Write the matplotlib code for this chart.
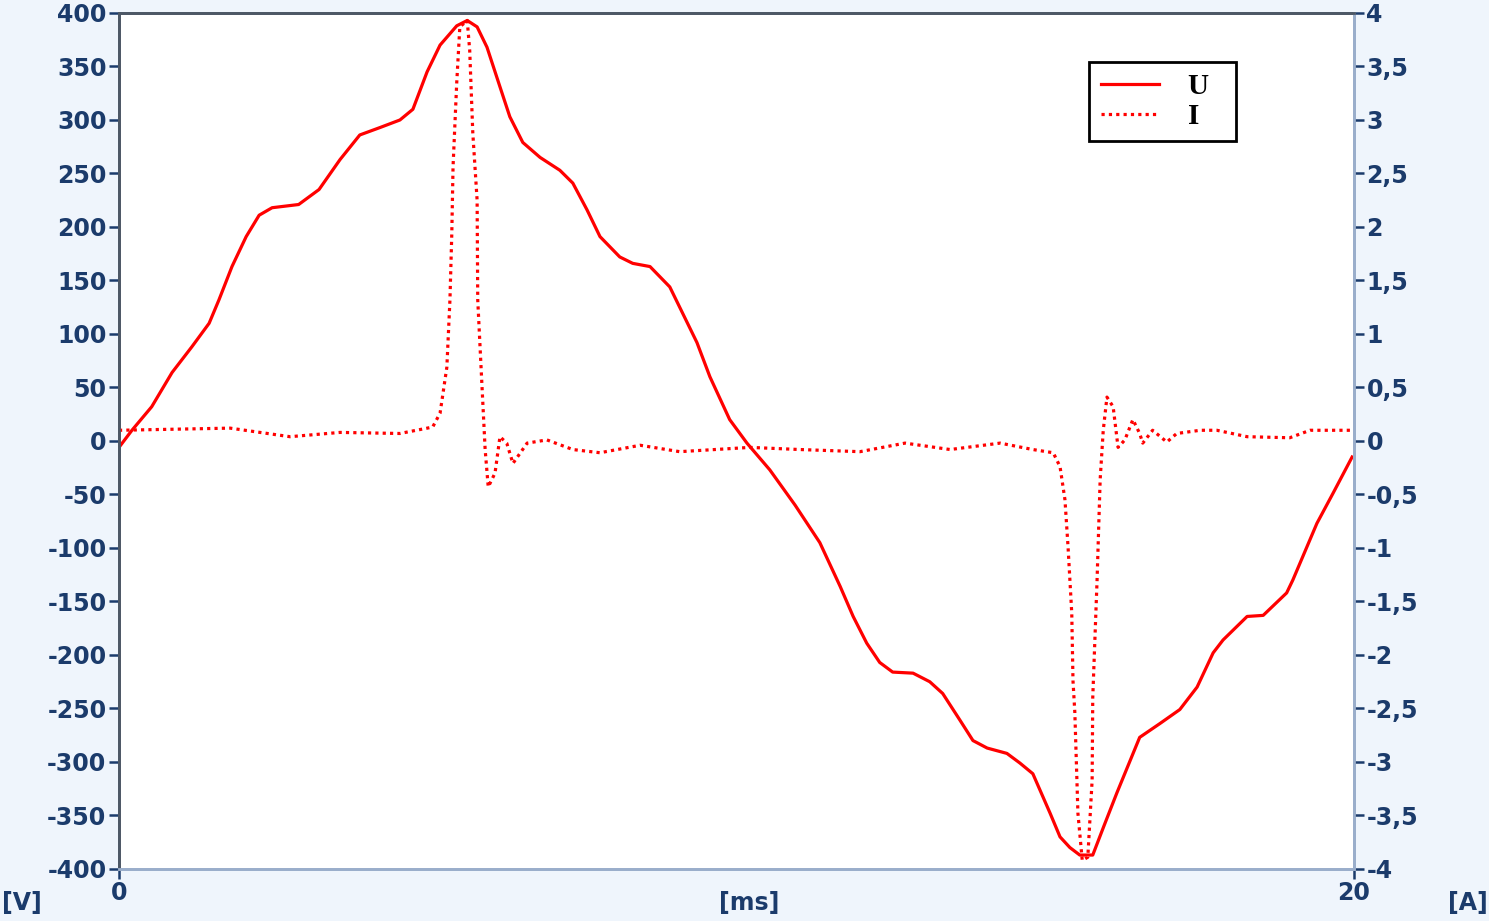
import numpy as np
from matplotlib import pyplot as plt
from matplotlib.lines import Line2D

# Spannung U [V] ueber Zeit [ms]
t_u = [0.00, 0.21, 0.53, 0.86, 1.18, 1.46, 1.62, 1.83, 2.06, 2.27, 2.48, 2.91, 3.24, 3.58,
       3.90, 4.23, 4.55, 4.76, 4.99, 5.20, 5.47, 5.64, 5.80, 5.96, 6.17, 6.33, 6.54, 6.82,
       7.14, 7.35, 7.58, 7.79, 8.11, 8.32, 8.60, 8.92, 9.36, 9.57, 9.89, 10.17, 10.54, 10.95,
       11.35, 11.68, 11.89, 12.11, 12.32, 12.53, 12.86, 13.13, 13.34, 13.62, 13.83, 14.06,
       14.38, 14.59, 14.80, 15.08, 15.24, 15.40, 15.56, 15.77, 15.95, 16.16, 16.53, 16.86,
       17.18, 17.46, 17.72, 17.88, 18.27, 18.53, 18.91, 19.01, 19.40, 19.66, 19.97]
u = [-6, 10, 32, 64, 88, 110, 132, 163, 191, 211, 218, 221, 235, 263,
     286, 293, 300, 310, 345, 370, 388, 393, 387, 368, 331, 303, 279, 265,
     253, 241, 216, 191, 172, 166, 163, 144, 92, 60, 20, -2, -27, -60,
     -95, -136, -164, -189, -207, -216, -217, -225, -236, -261, -280, -287,
     -292, -301, -311, -348, -370, -380, -387, -387, -360, -329, -277, -264,
     -251, -230, -198, -186, -164, -163, -142, -130, -77, -49, -15]

# Strom I [A]
t_i = [0.00, 1.80, 2.77, 3.58, 4.55, 5.08, 5.20, 5.31, 5.36, 5.39, 5.41, 5.47, 5.52, 5.64,
       5.68, 5.73, 5.80, 5.81, 5.88, 5.93, 5.98, 6.09, 6.17, 6.28, 6.38, 6.61, 6.93, 7.35,
       7.79, 8.44, 9.08, 10.22, 11.03, 12.00, 12.73, 13.46, 14.27, 14.80, 15.13, 15.24,
       15.32, 15.37, 15.43, 15.45, 15.48, 15.53, 15.60, 15.69, 15.76, 15.77, 15.84, 15.89,
       15.94, 16.00, 16.10, 16.18, 16.29, 16.42, 16.53, 16.58, 16.74, 16.97, 17.13, 17.51,
       17.78, 18.27, 18.96, 19.29, 20.00]
i = [0.10, 0.12, 0.04, 0.08, 0.07, 0.13, 0.26, 0.69, 1.32, 1.94, 2.56, 3.35, 3.87, 3.93,
     3.65, 2.88, 2.25, 1.32, 0.50, -0.08, -0.43, -0.30, 0.04, -0.02, -0.21, -0.02, 0.01, -0.08,
     -0.11, -0.04, -0.10, -0.06, -0.08, -0.10, -0.02, -0.08, -0.02, -0.08, -0.11, -0.24,
     -0.55, -0.99, -1.61, -2.24, -2.54, -3.48, -3.92, -3.89, -3.17, -2.40, -1.30, -0.36,
     0.10, 0.41, 0.32, -0.06, 0.01, 0.20, 0.07, -0.02, 0.10, -0.01, 0.07, 0.10,
     0.10, 0.04, 0.03, 0.10, 0.10]

u_ticks = list(range(-400, 401, 50))
i_ticks = [k / 2 for k in range(-8, 9)]

txt = '#1b3b6b'
bg = '#eff5fc'

fig = plt.figure(figsize=(14.89, 9.21), dpi=100, facecolor=bg)
ax = fig.add_axes([0.0799, 0.0565, 0.8294, 0.9294])
ax.set_facecolor('white')

ax.plot(t_u, u, color='#ff0000', lw=2.3, solid_joinstyle='round')
ax.set_xlim(0, 20)
ax.set_ylim(-400, 400)

ax2 = ax.twinx()
ax2.plot(t_i, i, color='#ff0000', lw=2.3, linestyle=(0, (1, 1.3)))
ax2.set_ylim(-4, 4)

ax.set_xticks([0, 20])
ax.set_xticklabels(['0', '20'])
ax.set_yticks(u_ticks)
ax.set_yticklabels([str(v) for v in u_ticks])
ax2.set_yticks(i_ticks)
ax2.set_yticklabels([('%g' % v).replace('.', ',') for v in i_ticks])

for a in (ax, ax2):
    a.tick_params(direction='out', length=7, width=1.8, color=txt, pad=2,
                  labelsize=17, labelcolor=txt)
    for s in a.spines.values():
        s.set_linewidth(2)
    a.spines['left'].set_color('#4d5866')
    a.spines['top'].set_color('#4d5866')
    a.spines['right'].set_color('#9aaecb')
    a.spines['bottom'].set_color('#9aaecb')
for lab in ax.get_xticklabels() + ax.get_yticklabels() + ax2.get_yticklabels():
    lab.set_fontweight('bold')

fig.text(0.015, 0.02, '[V]', color=txt, fontsize=17, fontweight='bold', ha='center', va='center')
fig.text(0.503, 0.02, '[ms]', color=txt, fontsize=17, fontweight='bold', ha='center', va='center')
fig.text(0.986, 0.02, '[A]', color=txt, fontsize=17, fontweight='bold', ha='center', va='center')

handles = [Line2D([], [], color='#ff0000', lw=2.3),
           Line2D([], [], color='#ff0000', lw=2.3, linestyle=(0, (1, 1.3)))]
leg = ax2.legend(handles, ['U  ', 'I   '], loc='upper left', bbox_to_anchor=(0.7855, 0.943),
                 frameon=True, fancybox=False, framealpha=1, edgecolor='black',
                 prop={'family': 'Liberation Serif', 'weight': 'bold', 'size': 21},
                 handlelength=2.0, handletextpad=1.0, borderpad=0.4, labelspacing=0.08,
                 borderaxespad=0)
leg.get_frame().set_linewidth(2)

fig.savefig('out.png', dpi=100, facecolor=bg)
